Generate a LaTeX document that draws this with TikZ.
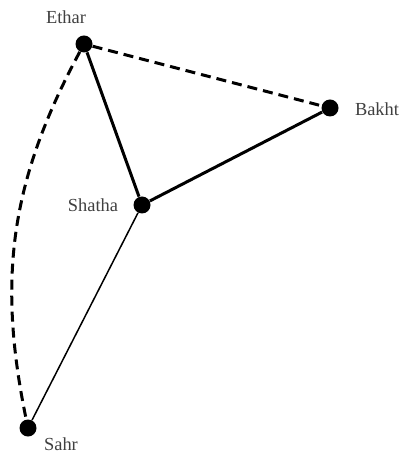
\documentclass[tikz,border=0pt]{standalone}
\usepackage{fontspec}
\setmainfont{Liberation Serif}
\usetikzlibrary{positioning}
\tikzset{
	person/.style={%
			circle,%
			fill=black,%
			inner sep=0pt,%
			minimum size=8.5pt},%
	lbl/.style={%
			text=black!75,%
			font={\fontsize{9.2}{11}\selectfont},%
			inner sep=0pt},%
	strong/.style={line width=1.5pt},%
	weak/.style={line width=0.75pt},%
	tense/.style={line width=1.5pt, dash pattern=on 5pt off 3pt},%
}

\begin{document}
\begin{tikzpicture}[x=0.5pt, y=-0.5pt]%
	\useasboundingbox (0,0) rectangle (402,458);

	\node[person] (ethar) at (84,44) {};
	\node[person] (bakht) at (330,108) {};
	\node[person] (shatha) at (142,205) {};
	\node[person] (sahr) at (28,428) {};

	\node[lbl] (etharlbl) at (66,17) {Ethar};
	\node[lbl] (bakhtlbl) at (377,109) {Bakht};
	\node[lbl] (shathalbl) at (93,205) {Shatha};
	\node[lbl] (sahrlbl) at (61,444) {Sahr};

	\draw[tense] (ethar) -- (bakht);
	\draw[tense] (ethar) to[bend right=20] (sahr);
	\draw[strong] (ethar) -- (shatha);
	\draw[strong] (shatha) -- (bakht);
	\draw[weak] (shatha) -- (sahr);
\end{tikzpicture}
\end{document}
